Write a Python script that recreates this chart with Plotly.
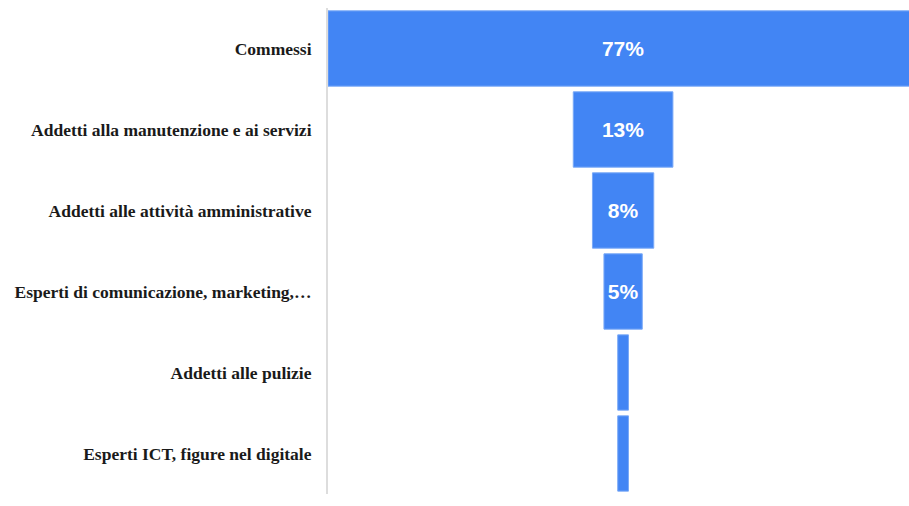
import plotly.graph_objects as go

categories = [
    "Commessi",
    "Addetti alla manutenzione e ai servizi",
    "Addetti alle attività amministrative",
    "Esperti di comunicazione, marketing,…",
    "Addetti alle pulizie",
    "Esperti ICT, figure nel digitale",
]
values = [77, 13, 8, 5, 1.4, 1.4]
value_labels = ["77%", "13%", "8%", "5%", "", ""]

fig = go.Figure(
    go.Funnel(
        y=categories,
        x=values,
        text=value_labels,
        textinfo="text",
        textposition="inside",
        insidetextanchor="middle",
        textfont=dict(family="Liberation Sans", size=21, color="white", weight="bold"),
        marker=dict(color="#4285F4", line=dict(color="#7aa9f7", width=1)),
        connector=dict(visible=False),
        hoverinfo="y+x",
    )
)

fig.update_layout(
    width=909,
    height=506,
    margin=dict(l=328, r=0, t=8, b=12),
    paper_bgcolor="white",
    plot_bgcolor="white",
    showlegend=False,
    funnelgap=0.07,
    xaxis=dict(range=[-38.5, 37.3], visible=False, fixedrange=True),
    yaxis=dict(
        showline=True,
        linecolor="#dddddd",
        linewidth=2,
        ticks="",
        ticklabelstandoff=11,
        tickfont=dict(family="Liberation Serif", size=17.5, color="#1a1a1a", weight="bold"),
        showgrid=False,
        fixedrange=True,
    ),
)

fig.write_html(
    "out.html",
    config={"displayModeBar": False},
    post_script="document.body.style.margin='0';document.body.style.overflow='hidden';",
)
